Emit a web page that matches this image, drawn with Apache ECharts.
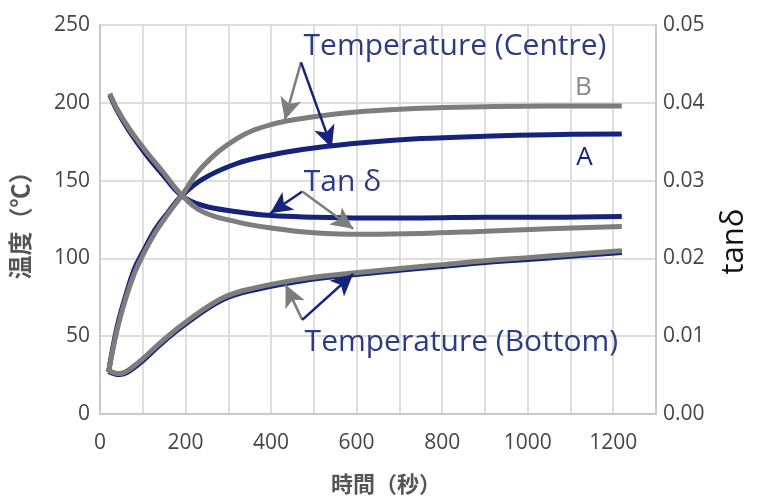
<!DOCTYPE html>
<html>
<head>
<meta charset="utf-8">
<script src="https://cdn.jsdelivr.net/npm/echarts@6/dist/echarts.min.js"></script>
<style>
  html, body { margin: 0; padding: 0; background: #ffffff; }
  #chart { width: 758px; height: 502px; }
</style>
</head>
<body>
<div id="chart"></div>
<script>
// Time (s) sampling of each curve group
const centreTimes = [20, 40, 60, 80, 100, 130, 160, 190, 240, 320, 400, 500, 620, 750, 900, 1050, 1220];
const tanTimes    = [23, 40, 68, 107, 146, 190, 240, 320, 400, 500, 620, 750, 900, 1050, 1220];
const bottomTimes = [20, 45, 80, 146, 200, 290, 370, 477, 592, 700, 800, 900, 1000, 1100, 1220];

// Centre temperature (°C), condition A (navy) and B (gray)
const centreA = [27, 56, 76, 93, 104, 119, 130, 140, 151, 161, 166.5, 171, 174.5, 177, 178.5, 179.5, 180];
const centreB = [27, 54, 74, 90, 102, 117, 129, 140, 159, 177, 186, 191, 194.5, 196.5, 197.5, 198, 198];

// Loss tangent, condition A and B
const tanA = [0.0410, 0.0390, 0.0364, 0.0334, 0.0308, 0.0281, 0.0268, 0.0260, 0.0255, 0.0253, 0.0252, 0.0252, 0.0253, 0.0253, 0.0254];
const tanB = [0.0412, 0.0392, 0.0367, 0.0338, 0.0312, 0.0282, 0.0260, 0.0247, 0.0239, 0.0233, 0.0231, 0.0232, 0.0235, 0.0238, 0.0241];

// Bottom temperature (°C), condition A and B
const bottomA = [27.5, 25.5, 30, 46, 58, 74, 80.5, 86, 89.6, 92.5, 95, 97.5, 99.5, 101.5, 104];
const bottomB = [28, 26, 31, 47, 59, 75, 81.5, 87, 90.6, 93.5, 96, 98.5, 100.5, 102.5, 105];

// Axis tick labels
const timeTicks = [0, 200, 400, 600, 800, 1000, 1200];

const NAVY = '#16237c';
const GRAY = '#7d7d7d';
const NOTE = '#2e3b80';
const FONT = '"Open Sans", "Noto Sans CJK JP", sans-serif';

const pair = (xs, ys) => xs.map((x, i) => [x, ys[i]]);

function arrow(from, to, color) {
  return [
    { coord: from, lineStyle: { color: color, width: 2.5, type: 'solid' } },
    { coord: to }
  ];
}

function note(text, at, color, size) {
  return {
    coord: at,
    symbol: 'circle',
    symbolSize: 1,
    itemStyle: { color: 'rgba(0,0,0,0)' },
    label: {
      show: true, position: 'inside', formatter: text,
      color: color, fontSize: size, fontFamily: FONT
    }
  };
}

const chart = echarts.init(document.getElementById('chart'), null, { renderer: 'canvas' });

chart.setOption({
  animation: false,
  backgroundColor: '#ffffff',
  grid: { left: 100, right: 95, top: 25, bottom: 85, containLabel: false },
  xAxis: {
    type: 'value', min: 0, max: 1300, interval: 100,
    name: '時間（秒）', nameLocation: 'middle', nameGap: 61,
    nameTextStyle: { fontSize: 22, fontWeight: 'bold', color: '#555555', fontFamily: FONT, padding: [0, 0, 0, 16] },
    axisLine: { show: true, lineStyle: { color: '#c9c9c9', width: 2 } },
    axisTick: { show: false },
    splitLine: { show: true, lineStyle: { color: '#dedede', width: 2 } },
    axisLabel: {
      margin: 19, fontSize: 21, color: '#454545', fontFamily: FONT,
      formatter: v => (timeTicks.indexOf(v) >= 0 ? String(v) : '')
    }
  },
  yAxis: [
    {
      type: 'value', min: 0, max: 250, interval: 50, position: 'left',
      name: '温度（℃）', nameLocation: 'middle', nameGap: 66,
      nameTextStyle: { fontSize: 24, fontWeight: 'bold', color: '#555555', fontFamily: FONT },
      axisLine: { show: true, lineStyle: { color: '#c9c9c9', width: 2 } },
      axisTick: { show: false },
      splitLine: { show: true, lineStyle: { color: '#dedede', width: 2 } },
      axisLabel: { margin: 10, fontSize: 21, color: '#454545', fontFamily: FONT }
    },
    {
      type: 'value', min: 0, max: 0.05, interval: 0.01, position: 'right',
      name: 'tanδ', nameLocation: 'middle', nameGap: 63,
      nameTextStyle: { fontSize: 31, color: '#111111', fontFamily: FONT, padding: [0, 44, 0, 0] },
      axisLine: { show: true, lineStyle: { color: '#c9c9c9', width: 2 } },
      axisTick: { show: false },
      splitLine: { show: false },
      axisLabel: { margin: 7, fontSize: 21, color: '#454545', fontFamily: FONT, formatter: v => v.toFixed(2) }
    }
  ],
  series: [
    {
      name: 'Bottom A', type: 'line', yAxisIndex: 0, smooth: 0.4, showSymbol: false,
      data: pair(bottomTimes, bottomA), lineStyle: { color: NAVY, width: 5.5 }, z: 2
    },
    {
      name: 'Bottom B', type: 'line', yAxisIndex: 0, smooth: 0.4, showSymbol: false,
      data: pair(bottomTimes, bottomB), lineStyle: { color: GRAY, width: 5 }, z: 3
    },
    {
      name: 'tan δ A', type: 'line', yAxisIndex: 1, smooth: 0.4, showSymbol: false,
      data: pair(tanTimes, tanA), lineStyle: { color: NAVY, width: 5 }, z: 2
    },
    {
      name: 'tan δ B', type: 'line', yAxisIndex: 1, smooth: 0.4, showSymbol: false,
      data: pair(tanTimes, tanB), lineStyle: { color: GRAY, width: 5 }, z: 3
    },
    {
      name: 'Centre A', type: 'line', yAxisIndex: 0, smooth: 0.4, showSymbol: false,
      data: pair(centreTimes, centreA), lineStyle: { color: NAVY, width: 5 }, z: 2
    },
    {
      name: 'Centre B', type: 'line', yAxisIndex: 0, smooth: 0.4, showSymbol: false,
      data: pair(centreTimes, centreB), lineStyle: { color: GRAY, width: 5 }, z: 3,
      markLine: {
        silent: true, symbol: ['none', 'arrow'], symbolSize: [16, 22],
        label: { show: false },
        data: [
          arrow([470, 226], [432, 189], GRAY),
          arrow([470, 226], [542, 171], NAVY),
          arrow([473, 143], [398, 129], NAVY),
          arrow([473, 143], [592, 119], GRAY),
          arrow([473, 60.5], [434, 83], GRAY),
          arrow([473, 60.5], [592, 90], NAVY)
        ]
      },
      markPoint: {
        silent: true,
        data: [
          note('Temperature (Centre)', [830, 236], NOTE, 30),
          note('Tan δ', [567, 149], NOTE, 30),
          note('Temperature (Bottom)', [845, 46], NOTE, 30),
          note('B', [1130, 210], '#8a8a8a', 26),
          note('A', [1133, 165], NAVY, 26)
        ]
      }
    }
  ]
});
</script>
</body>
</html>
